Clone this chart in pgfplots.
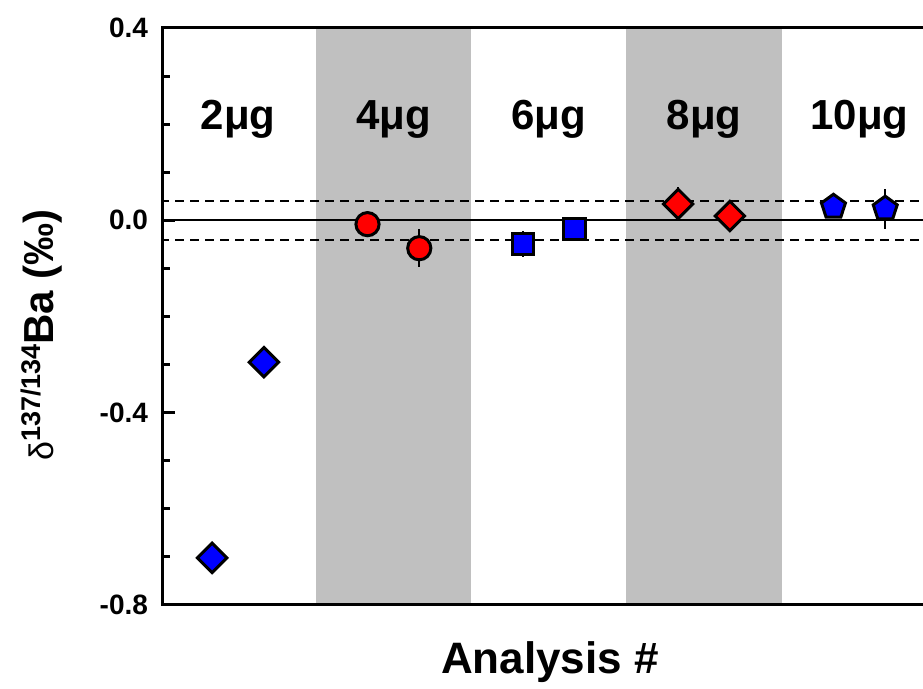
\documentclass[border=0pt]{standalone}
\usepackage{pgfplots}
\pgfplotsset{compat=1.18}
\usepackage{fontspec}
\setmainfont{Liberation Sans}
\definecolor{bandgray}{RGB}{192,192,192}
\definecolor{mblue}{RGB}{0,0,255}
\definecolor{mred}{RGB}{255,0,0}
\begin{document}
\begin{tikzpicture}
\begin{axis}[name=ax, scale only axis, width=387pt, height=288.5pt,
  xmin=0.05, xmax=15, ymin=-0.8, ymax=0.4,
  xtick=\empty, ytick={-0.8,-0.4,0,0.4}, minor y tick num=3, ytick pos=left,
  tick align=inside, major tick length=6pt, minor tick length=3.5pt,
  tick style={line width=1.5pt, black},
  axis line style={line width=1.5pt},
  axis on top, clip=true,
  /pgf/number format/assume math mode=true,
  y tick label style={font=\fontsize{14}{14}\selectfont\bfseries, xshift=-4pt,
    /pgf/number format/fixed, /pgf/number format/fixed zerofill, /pgf/number format/precision=1},
  xlabel={Analysis \#},
  xlabel style={font=\fontsize{22}{22}\selectfont\bfseries, at={(axis description cs:0.5,-0.099)}, anchor=center},
  ylabel={{\fontsize{17}{17}\selectfont δ}\raisebox{0.62em}{\fontsize{13.5}{13.5}\selectfont\bfseries 137/134}{\fontsize{21}{21}\selectfont\bfseries Ba (‰)}},
  ylabel style={at={(axis description cs:-0.157,0.468)}, anchor=center},
]
% grey bands
\addplot[fill=bandgray, draw=none] coordinates {(3,-0.8) (3,0.4) (6,0.4) (6,-0.8)} -- cycle;
\addplot[fill=bandgray, draw=none] coordinates {(9,-0.8) (9,0.4) (12,0.4) (12,-0.8)} -- cycle;
% reference lines
\addplot[black, line width=1pt] coordinates {(0,0) (15,0)};
\addplot[black, line width=1pt, dash pattern=on 4.5pt off 3pt] coordinates {(0,0.04) (15,0.04)};
\addplot[black, line width=1pt, dash pattern=on 4.5pt off 3pt] coordinates {(0,-0.04) (15,-0.04)};
% 2 ug
\addplot[only marks, mark=square*, mark size=5.2pt, mark options={rotate=45, fill=mblue, draw=black, line width=1.5pt},
  error bars/.cd, y dir=both, y explicit, error bar style={line width=1pt, black}, error mark=none]
  coordinates {(1,-0.702) +- (0,0.005) (2,-0.295) +- (0,0.005)};
% 4 ug
\addplot[only marks, mark=*, mark size=5.8pt, mark options={fill=mred, draw=black, line width=1.5pt},
  error bars/.cd, y dir=both, y explicit, error bar style={line width=1pt, black}, error mark=none]
  coordinates {(4,-0.008) +- (0,0.012) (5,-0.058) +- (0,0.040)};
% 6 ug
\addplot[only marks, mark=square*, mark size=5.3pt, mark options={fill=mblue, draw=black, line width=1.5pt},
  error bars/.cd, y dir=both, y explicit, error bar style={line width=1pt, black}, error mark=none]
  coordinates {(7,-0.049) +- (0,0.027) (8,-0.018) +- (0,0.010)};
% 8 ug
\addplot[only marks, mark=square*, mark size=5.2pt, mark options={rotate=45, fill=mred, draw=black, line width=1.5pt},
  error bars/.cd, y dir=both, y explicit, error bar style={line width=1pt, black}, error mark=none]
  coordinates {(10,0.034) +- (0,0.035) (11,0.009) +- (0,0.015)};
% 10 ug
\addplot[only marks, mark=pentagon*, mark size=6.3pt, mark options={fill=mblue, draw=black, line width=1.5pt},
  error bars/.cd, y dir=both, y explicit, error bar style={line width=1pt, black}, error mark=none]
  coordinates {(13,0.028) +- (0,0.020) (14,0.024) +- (0,0.042)};
% group labels
\node[font=\fontsize{21}{21}\selectfont\bfseries] at (axis cs:1.5,0.21) {2μg};
\node[font=\fontsize{21}{21}\selectfont\bfseries] at (axis cs:4.5,0.21) {4μg};
\node[font=\fontsize{21}{21}\selectfont\bfseries] at (axis cs:7.5,0.21) {6μg};
\node[font=\fontsize{21}{21}\selectfont\bfseries] at (axis cs:10.5,0.21) {8μg};
\node[font=\fontsize{21}{21}\selectfont\bfseries] at (axis cs:13.5,0.21) {10μg};
\end{axis}
\pgfresetboundingbox
\path ([shift={(-81.5pt,-42pt)}]ax.south west) rectangle ([shift={(380pt,302.5pt)}]ax.south west);
\end{tikzpicture}
\end{document}
